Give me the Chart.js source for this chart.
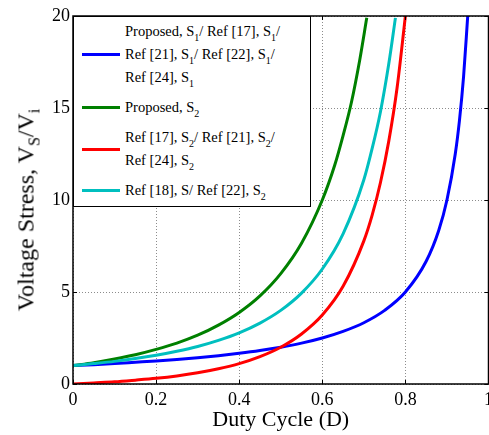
<!DOCTYPE html>
<html>
<head>
<meta charset="utf-8">
<script src="https://cdn.jsdelivr.net/npm/chart.js@4.4.1/dist/chart.umd.min.js"></script>
<style>
  html, body { margin: 0; padding: 0; background: #fff; }
  #wrap { position: relative; width: 489px; height: 435px; overflow: hidden; }
  #chart { position: absolute; left: 0; top: 0; }
  .serif { font-family: 'Liberation Serif', 'DejaVu Serif', serif; color: #000; }
  #ytitle {
    position: absolute; white-space: nowrap; font-size: 24px;
    transform: translate(-50%, -50%) rotate(-90deg);
  }
  #ytitle sub { font-size: 16px; vertical-align: -6px; }
  #legend {
    position: absolute; background: #fff; border: 1px solid #000;
    box-sizing: border-box; font-size: 14.5px; line-height: 23px; padding-top: 3px;
  }
  .entry { display: flex; align-items: center; margin-bottom: 7px; }
  .swatch { width: 38px; height: 3px; margin-left: 8px; margin-right: 5px; flex: none; }
  sub { font-size: 10px; vertical-align: -5px; line-height: 0; }
</style>
</head>
<body>
<div id="wrap">
  <canvas id="chart" width="498" height="435"></canvas>
  <div id="ytitle" class="serif">Voltage Stress, V<sub>S</sub>/V<sub>i</sub></div>
  <div id="legend" class="serif">
    <div class="entry"><span class="swatch" style="background:#0000ff"></span>
      <div>Proposed, S<sub>1</sub>/ Ref [17], S<sub>1</sub>/<br>Ref [21], S<sub>1</sub>/ Ref [22], S<sub>1</sub>/<br>Ref [24], S<sub>1</sub></div></div>
    <div class="entry"><span class="swatch" style="background:#008000"></span>
      <div>Proposed, S<sub>2</sub></div></div>
    <div class="entry"><span class="swatch" style="background:#ff0000"></span>
      <div>Ref [17], S<sub>2</sub>/ Ref [21], S<sub>2</sub>/<br>Ref [24], S<sub>2</sub></div></div>
    <div class="entry"><span class="swatch" style="background:#00bfbf"></span>
      <div>Ref [18], S/ Ref [22], S<sub>2</sub></div></div>
  </div>
</div>
<script>
// duty cycle samples and voltage stress
const blueD = [0, 0.05, 0.1, 0.15, 0.2, 0.25, 0.3, 0.35, 0.4, 0.45, 0.5, 0.55, 0.6, 0.65, 0.7, 0.75, 0.8, 0.85, 0.88, 0.9, 0.92, 0.93, 0.94, 0.95]
const blueV = [1, 1.05, 1.11, 1.18, 1.25, 1.33, 1.43, 1.54, 1.67, 1.82, 2, 2.22, 2.5, 2.86, 3.33, 4, 5, 6.67, 8.33, 10, 12.5, 14.3, 16.7, 20]

const greenD = [0, 0.05, 0.1, 0.15, 0.2, 0.25, 0.3, 0.35, 0.4, 0.45, 0.5, 0.55, 0.6, 0.63, 0.65, 0.67, 0.69, 0.707]
const greenV = [1, 1.16, 1.36, 1.59, 1.88, 2.22, 2.65, 3.2, 3.89, 4.79, 6, 7.65, 10, 11.9, 13.5, 15.3, 17.6, 19.9]

const redD = [0, 0.05, 0.1, 0.15, 0.2, 0.25, 0.3, 0.35, 0.4, 0.45, 0.5, 0.55, 0.6, 0.65, 0.7, 0.72, 0.74, 0.76, 0.78, 0.8]
const redV = [0, 0.06, 0.12, 0.21, 0.31, 0.44, 0.61, 0.83, 1.11, 1.49, 2, 2.72, 3.75, 5.31, 7.78, 9.18, 10.95, 13.2, 16.1, 20]

const cyanD = [0, 0.05, 0.1, 0.15, 0.2, 0.25, 0.3, 0.35, 0.4, 0.45, 0.5, 0.55, 0.6, 0.65, 0.7, 0.72, 0.74, 0.76, 0.776]
const cyanV = [1, 1.11, 1.23, 1.38, 1.56, 1.78, 2.04, 2.37, 2.78, 3.31, 4, 4.94, 6.25, 8.16, 11.1, 12.8, 14.8, 17.4, 19.9]

const xTicks = [0, 0.2, 0.4, 0.6, 0.8, 1]
const yTicks = [0, 5, 10, 15, 20]

const SERIF = "'Liberation Serif', 'DejaVu Serif', serif"

const toPoints = (xs, ys) => xs.map((x, i) => ({ x, y: ys[i] }))

const SERIES = [
  { color: '#0000ff', xs: blueD, ys: blueV, order: 4 },
  { color: '#008000', xs: greenD, ys: greenV, order: 3 },
  { color: '#ff0000', xs: redD, ys: redV, order: 2 },
  { color: '#00bfbf', xs: cyanD, ys: cyanV, order: 1 }
]

// frame + inward tick marks like the original plot
const framePlugin = {
  id: 'frame',
  afterDraw (chart) {
    const { ctx, chartArea: a, scales } = chart
    ctx.save()
    ctx.strokeStyle = '#000'
    ctx.lineWidth = 1.5
    ctx.strokeRect(a.left, a.top, a.right - a.left, a.bottom - a.top)
    ctx.lineWidth = 1
    ctx.beginPath()
    xTicks.forEach(v => {
      const px = Math.round(scales.x.getPixelForValue(v)) + 0.5
      ctx.moveTo(px, a.bottom); ctx.lineTo(px, a.bottom - 4)
      ctx.moveTo(px, a.top); ctx.lineTo(px, a.top + 4)
    })
    yTicks.forEach(v => {
      const py = Math.round(scales.y.getPixelForValue(v)) + 0.5
      ctx.moveTo(a.left, py); ctx.lineTo(a.left + 4, py)
      ctx.moveTo(a.right, py); ctx.lineTo(a.right - 4, py)
    })
    ctx.stroke()
    ctx.restore()
  },
  afterRender (chart) {
    const a = chart.chartArea
    const legend = document.getElementById('legend')
    legend.style.left = a.left + 'px'
    legend.style.top = a.top + 'px'
    legend.style.width = '238px'
    legend.style.height = '191px'
    const yt = document.getElementById('ytitle')
    yt.style.left = '26px'
    yt.style.top = ((a.top + a.bottom) / 2 + 10) + 'px'
  }
}

const gridStyle = {
  color: '#8c8c8c',
  lineWidth: 1,
  drawTicks: false
}

new Chart(document.getElementById('chart'), {
  type: 'line',
  data: {
    datasets: SERIES.map(s => ({
      data: toPoints(s.xs, s.ys),
      borderColor: s.color,
      backgroundColor: s.color,
      borderWidth: 3,
      pointRadius: 0,
      cubicInterpolationMode: 'monotone',
      order: s.order
    }))
  },
  options: {
    responsive: false,
    animation: false,
    layout: { padding: { top: 16, left: 0, right: 0, bottom: 0 } },
    plugins: { legend: { display: false }, tooltip: { enabled: false } },
    scales: {
      x: {
        type: 'linear',
        min: 0,
        max: 1,
        afterBuildTicks: (scale) => { scale.ticks = xTicks.map(value => ({ value })) },
        ticks: {
          color: '#000',
          font: { family: SERIF, size: 18 },
          padding: 5,
          maxRotation: 0,
          callback: (v) => String(v)
        },
        grid: gridStyle,
        border: { display: false, dash: [1, 2] },
        title: {
          display: true,
          text: 'Duty Cycle (D)',
          color: '#000',
          font: { family: SERIF, size: 22 },
          padding: { top: 0, bottom: 2 }
        },
        afterFit: (scale) => { scale.height = 51 }
      },
      y: {
        min: 0,
        max: 20,
        afterBuildTicks: (scale) => { scale.ticks = yTicks.map(value => ({ value })) },
        ticks: {
          color: '#000',
          font: { family: SERIF, size: 18 },
          padding: 3
        },
        grid: gridStyle,
        border: { display: false, dash: [1, 2] },
        afterFit: (scale) => { scale.width = 73 }
      }
    }
  },
  plugins: [framePlugin]
})
</script>
</body>
</html>
